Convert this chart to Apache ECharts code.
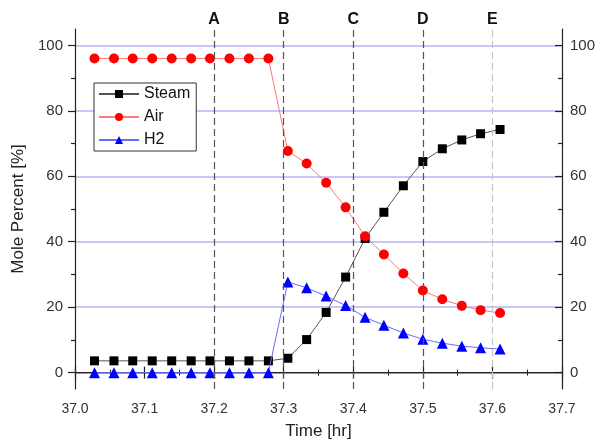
<!DOCTYPE html>
<html lang="en">
<head>
    <meta charset="UTF-8">
    <title>Mole Percent vs Time</title>
    <script src="https://cdn.jsdelivr.net/npm/echarts@6/dist/echarts.min.js"></script>
    <style>
        html, body {margin: 0; padding: 0; background: #fff;}
        #main {width: 598px; height: 446px;}
    </style>
</head>
<body>
<div id="main"></div>
<script>
    // sample times [hr]
    var times = [37.028, 37.056, 37.083, 37.111, 37.139, 37.167, 37.194, 37.222, 37.25, 37.278,
        37.306, 37.333, 37.361, 37.389, 37.417, 37.444, 37.472, 37.5, 37.528, 37.556, 37.583, 37.611];
    var steam = [3.6, 3.6, 3.6, 3.6, 3.6, 3.6, 3.6, 3.6, 3.6, 3.6,
        4.4, 10.1, 18.4, 29.2, 41.0, 49.0, 57.1, 64.5, 68.4, 71.1, 73.0, 74.3];
    var air = [96, 96, 96, 96, 96, 96, 96, 96, 96, 96,
        67.7, 63.9, 58.0, 50.5, 41.7, 36.1, 30.3, 25.1, 22.4, 20.4, 19.1, 18.2];
    var h2 = [0, 0, 0, 0, 0, 0, 0, 0, 0, 0,
        27.7, 25.9, 23.4, 20.5, 16.9, 14.5, 12.1, 10.2, 9.0, 8.1, 7.6, 7.2];

    var stageTimes = [37.2, 37.3, 37.4, 37.5, 37.6];
    var stageLabels = ['A', 'B', 'C', 'D', 'E'];
    var yTicks = [0, 20, 40, 60, 80, 100];
    var yMinorTicks = [10, 30, 50, 70, 90];

    function pairs(ys) {
        return times.map(function (t, i) { return [t, ys[i]]; });
    }

    var font = 'Liberation Sans, Arial, sans-serif';

    function yAxisOf(pos, major) {
        return {
            type: 'value', position: pos, min: -5, max: 105,
            axisLine: {show: major, lineStyle: {color: '#222', width: 1.2}},
            axisTick: {
                show: true, inside: pos === 'right', length: major ? 7 : 4,
                customValues: major ? yTicks : yMinorTicks,
                lineStyle: {color: '#222', width: 1.2}
            },
            axisLabel: {
                show: major, customValues: yTicks, margin: pos === 'right' ? 8 : 12,
                color: '#333', fontSize: 15, fontFamily: font
            },
            splitLine: {show: false}
        };
    }

    var leftMajor = yAxisOf('left', true);
    leftMajor.name = 'Mole Percent [%]';
    leftMajor.nameLocation = 'middle';
    leftMajor.nameGap = 44;
    leftMajor.nameTextStyle = {color: '#222', fontSize: 17, fontFamily: font};
    leftMajor.splitLine = {
        show: true,
        lineStyle: {color: ['#6464ff', '#b4b4f8', '#b4b4f8', '#b4b4f8', '#b4b4f8', '#b4b4f8'], width: 1.6}
    };

    var myChart = echarts.init(document.getElementById('main'));

    myChart.setOption({
        animation: false,
        backgroundColor: '#fff',
        grid: {left: 75, right: 33, top: 29, bottom: 57},
        legend: {
            orient: 'vertical', left: 94, top: 83,
            data: ['Steam', 'Air', 'H2'],
            backgroundColor: '#fff', borderColor: '#333', borderWidth: 1,
            padding: [3, 6, 3, 4], itemGap: 7, itemWidth: 40, itemHeight: 10,
            textStyle: {color: '#111', fontSize: 16, fontFamily: font}
        },
        xAxis: [{
            type: 'value', position: 'bottom', min: 37.0, max: 37.7, interval: 0.1,
            name: 'Time [hr]', nameLocation: 'middle', nameGap: 34,
            nameTextStyle: {color: '#222', fontSize: 17, fontFamily: font},
            axisLine: {lineStyle: {color: '#222', width: 1.2}},
            axisTick: {inside: true, length: 6, lineStyle: {color: '#222', width: 1.2}},
            minorTick: {show: true, splitNumber: 2, length: 3, lineStyle: {color: '#222', width: 1}},
            axisLabel: {
                margin: 13, color: '#333', fontSize: 14, fontFamily: font,
                formatter: function (v) { return v.toFixed(1); }
            },
            splitLine: {show: false}
        }, {
            type: 'value', position: 'top', min: 37.0, max: 37.7, interval: 0.1,
            axisLine: {lineStyle: {color: '#222', width: 1.2}},
            axisTick: {inside: true, length: 6, lineStyle: {color: '#222', width: 1.2}},
            minorTick: {show: true, splitNumber: 2, length: 3, lineStyle: {color: '#222', width: 1}},
            axisLabel: {
                customValues: stageTimes, margin: 1,
                color: '#111', fontSize: 16, fontWeight: 'bold', fontFamily: font,
                formatter: function (v) {
                    for (var i = 0; i < stageTimes.length; i++) {
                        if (Math.abs(stageTimes[i] - v) < 1e-6) return stageLabels[i];
                    }
                    return '';
                }
            },
            splitLine: {show: false}
        }],
        yAxis: [leftMajor, yAxisOf('left', false), yAxisOf('right', true), yAxisOf('right', false)],
        series: [{
            name: 'Steam', type: 'line', data: pairs(steam),
            symbol: 'rect', symbolSize: 9,
            itemStyle: {color: '#000'},
            lineStyle: {color: '#555', width: 1},
            z: 3,
            markLine: {
                silent: true, symbol: 'none', label: {show: false},
                lineStyle: {type: [7, 4], color: '#555', width: 1.2},
                data: stageTimes.map(function (t, i) {
                    var d = {xAxis: t};
                    if (i === stageTimes.length - 1) d.lineStyle = {color: '#c4c4c4'};
                    return d;
                })
            }
        }, {
            name: 'Air', type: 'line', data: pairs(air),
            symbol: 'circle', symbolSize: 10,
            itemStyle: {color: '#ff0000'},
            lineStyle: {color: '#ff7878', width: 1},
            z: 3
        }, {
            name: 'H2', type: 'line', data: pairs(h2),
            symbol: 'triangle', symbolSize: 11,
            itemStyle: {color: '#0000ff'},
            lineStyle: {color: '#6a6aff', width: 1},
            z: 4
        }]
    });
</script>
</body>
</html>
